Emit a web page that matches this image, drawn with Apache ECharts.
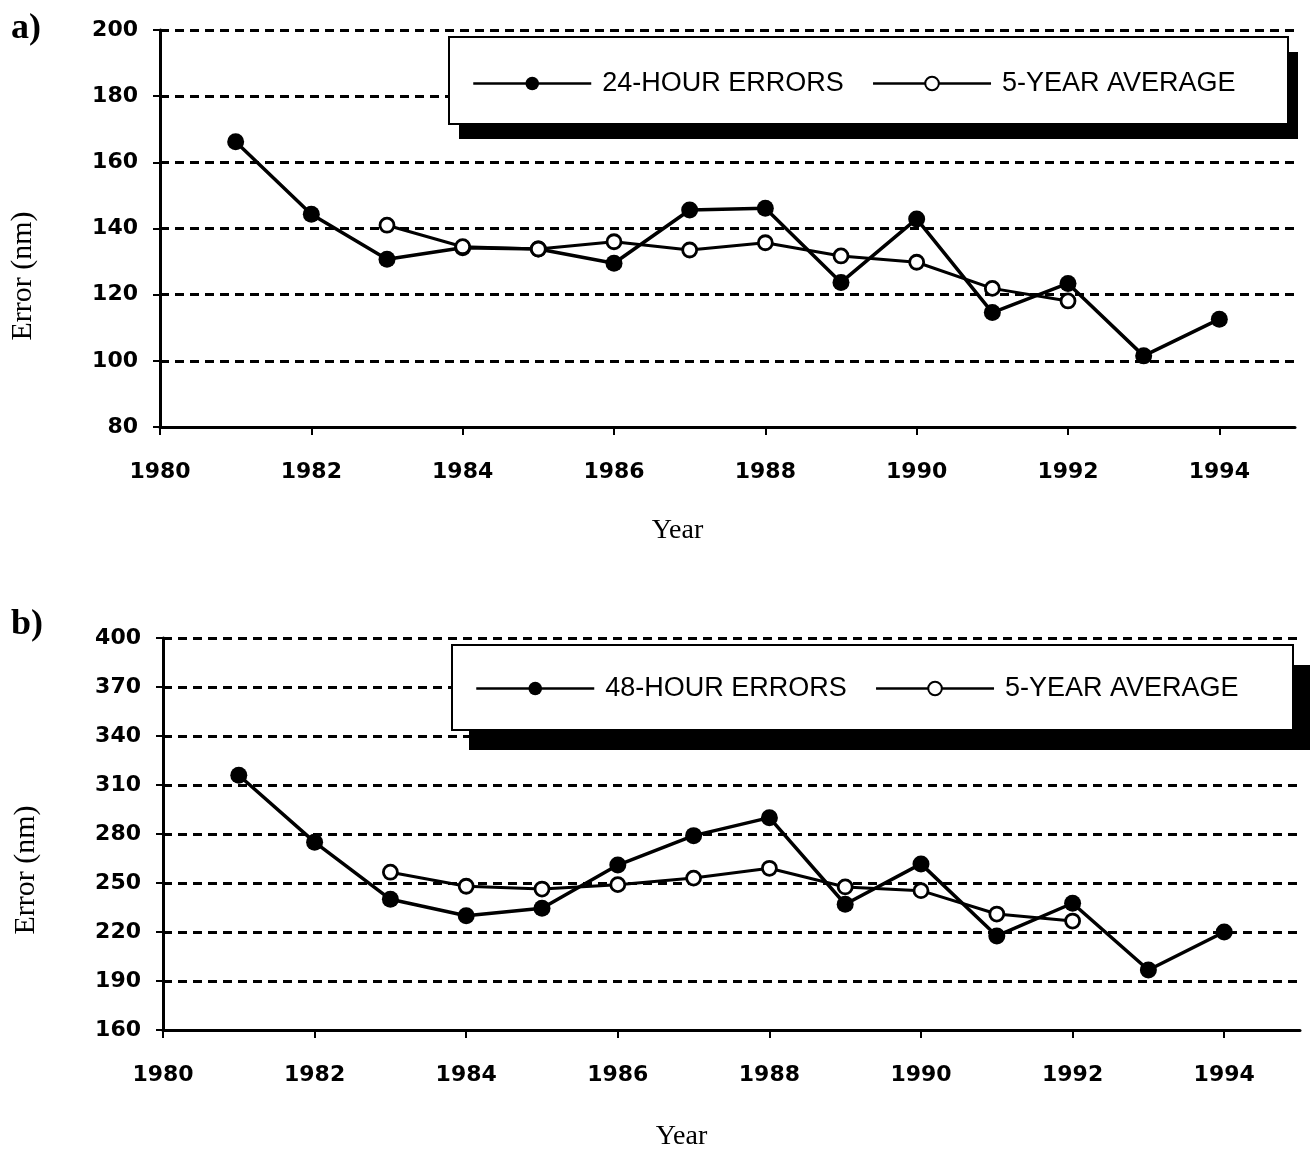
<!DOCTYPE html>
<html>
<head>
<meta charset="utf-8">
<script src="https://cdn.jsdelivr.net/npm/echarts@6/dist/echarts.min.js"></script>
<style>
html,body{margin:0;padding:0;background:#fff;}
#chart{width:1314px;height:1153px;}
</style>
</head>
<body>
<div id="chart"></div>
<script>
// ---- data ----
const years = [1981, 1982, 1983, 1984, 1985, 1986, 1987, 1988, 1989, 1990, 1991, 1992, 1993, 1994];
const avgYears = [1983, 1984, 1985, 1986, 1987, 1988, 1989, 1990, 1991, 1992];
const err24 = [166.2, 144.3, 130.7, 134.2, 133.8, 129.5, 145.6, 146.1, 123.7, 142.9, 114.6, 123.4, 101.5, 112.6];
const avg24 = [141.0, 134.5, 133.8, 136.0, 133.5, 135.7, 131.7, 129.8, 121.9, 118.1];
const err48 = [316, 275, 240, 230, 234.5, 261, 279, 290, 237, 261.7, 217.6, 237.6, 196.7, 220];
const avg48 = [256.6, 248, 246.3, 249, 253, 259, 247.6, 245.3, 231, 226.7];
const xTicks = [1980, 1982, 1984, 1986, 1988, 1990, 1992, 1994];
const yTicksTop = [80, 100, 120, 140, 160, 180, 200];
const yTicksBottom = [160, 190, 220, 250, 280, 310, 340, 370, 400];
const seriesNames = { top: '24-HOUR ERRORS', bottom: '48-HOUR ERRORS', avg: '5-YEAR AVERAGE' };
const xName = 'Year';
const yName = 'Error (nm)';

const pairs = (xs, ys) => xs.map((x, i) => [x, ys[i]]);

const tickFont = { fontFamily: 'DejaVu Sans', fontWeight: 'bold', fontSize: 22, color: '#000' };
const serif = 'Liberation Serif, Times New Roman, serif';

function xAxis(gridIndex, gap) {
  return {
    gridIndex, type: 'value', min: 1980, max: 1995, interval: 1,
    name: xName, nameLocation: 'middle', nameGap: gap,
    nameTextStyle: { fontFamily: serif, fontSize: 28, color: '#000', padding: [0, 100, 0, 0] },
    axisLine: { lineStyle: { color: '#000', width: 3 } },
    axisTick: { customValues: xTicks, length: 8, lineStyle: { color: '#000', width: 2 } },
    axisLabel: Object.assign({ customValues: xTicks, margin: 34, formatter: v => String(v) }, tickFont),
    splitLine: { show: false }
  };
}
function yAxis(gridIndex, ticks, shift) {
  return {
    gridIndex, type: 'value', min: ticks[0], max: ticks[ticks.length - 1],
    interval: ticks[1] - ticks[0],
    name: yName, nameLocation: 'middle', nameGap: 122,
    nameTextStyle: { fontFamily: serif, fontSize: 30, color: '#000', padding: [0, shift, 0, 0] },
    axisLine: { show: true, lineStyle: { color: '#000', width: 3 } },
    axisTick: { show: true, length: 7, lineStyle: { color: '#000', width: 2 } },
    axisLabel: Object.assign({ margin: 22, formatter: v => String(v) }, tickFont),
    splitLine: { show: true, lineStyle: { color: '#000', width: 3, type: [9, 6] } }
  };
}
function filledSeries(name, idx, xs, ys) {
  return {
    name, type: 'line', xAxisIndex: idx, yAxisIndex: idx, data: pairs(xs, ys),
    symbol: 'circle', symbolSize: 17,
    itemStyle: { color: '#000' },
    lineStyle: { color: '#000', width: 3.5 }, z: 3
  };
}
function openSeries(name, idx, xs, ys) {
  return {
    name, type: 'line', xAxisIndex: idx, yAxisIndex: idx, data: pairs(xs, ys),
    symbol: 'circle', symbolSize: 14,
    itemStyle: { color: '#fff', borderColor: '#000', borderWidth: 2.8 },
    lineStyle: { color: '#000', width: 3 }, z: 4
  };
}
function legend(left, top, names) {
  return {
    left, top, orient: 'horizontal', data: names, selectedMode: false,
    itemWidth: 118, itemHeight: 17, itemGap: 28, padding: 0, z: 10,
    lineStyle: { width: 2.5 },
    textStyle: { fontFamily: 'Liberation Sans, Arial, sans-serif', fontSize: 27, color: '#000', padding: [0, 0, 0, 6] }
  };
}
function legendBox(x, y, w, h, dx, dy) {
  return [
    { type: 'rect', z: 8, silent: true, shape: { x: x + dx, y: y + dy, width: w, height: h }, style: { fill: '#000' } },
    { type: 'rect', z: 9, silent: true, shape: { x, y, width: w, height: h }, style: { fill: '#fff', stroke: '#000', lineWidth: 2 } }
  ];
}

const option = {
  animation: false,
  backgroundColor: '#fff',
  title: [
    { text: 'a)', left: 6, top: 6, textStyle: { fontFamily: serif, fontWeight: 'bold', fontSize: 36, color: '#000' } },
    { text: 'b)', left: 6, top: 602, textStyle: { fontFamily: serif, fontWeight: 'bold', fontSize: 36, color: '#000' } }
  ],
  grid: [
    { left: 160, right: 19, top: 30, height: 397 },
    { left: 163, right: 14, top: 638, height: 392 }
  ],
  xAxis: [xAxis(0, 90), xAxis(1, 93)],
  yAxis: [yAxis(0, yTicksTop, 95), yAxis(1, yTicksBottom, 72)],
  legend: [
    legend(472, 70, [seriesNames.top, seriesNames.avg]),
    legend(475, 675, [seriesNames.bottom, seriesNames.avg])
  ],
  graphic: [
    ...legendBox(449, 37, 839, 87, 10, 15),
    ...legendBox(452, 645, 841, 85, 17, 20)
  ],
  series: [
    filledSeries(seriesNames.top, 0, years, err24),
    openSeries(seriesNames.avg, 0, avgYears, avg24),
    filledSeries(seriesNames.bottom, 1, years, err48),
    openSeries(seriesNames.avg, 1, avgYears, avg48)
  ]
};

const chart = echarts.init(document.getElementById('chart'), null, { renderer: 'canvas' });
chart.setOption(option);
</script>
</body>
</html>
